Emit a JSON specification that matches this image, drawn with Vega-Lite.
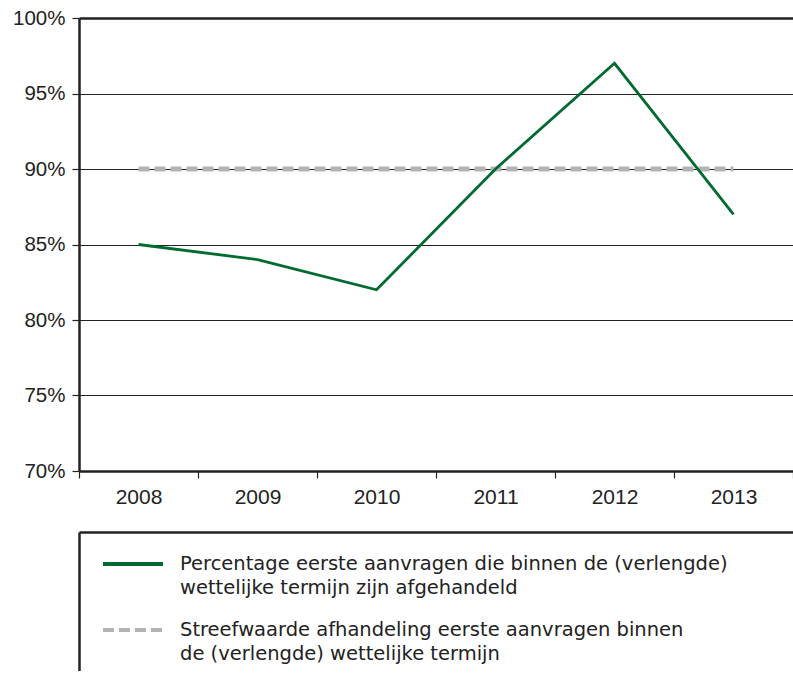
{
  "$schema": "https://vega.github.io/schema/vega-lite/v6.json",
  "padding": {"left": 12, "top": 8, "right": 0, "bottom": 0},
  "spacing": 25,
  "config": {
    "view": {"stroke": null},
    "font": "Liberation Sans",
    "axis": {"labelFont": "Liberation Sans", "labelColor": "#222222", "domainColor": "#222222", "tickColor": "#222222"}
  },
  "datasets": {
    "main": [
      {"year": "2008", "kind": "actual", "value": 0.85},
      {"year": "2009", "kind": "actual", "value": 0.84},
      {"year": "2010", "kind": "actual", "value": 0.82},
      {"year": "2011", "kind": "actual", "value": 0.90},
      {"year": "2012", "kind": "actual", "value": 0.97},
      {"year": "2013", "kind": "actual", "value": 0.87},
      {"year": "2008", "kind": "target", "value": 0.90},
      {"year": "2009", "kind": "target", "value": 0.90},
      {"year": "2010", "kind": "target", "value": 0.90},
      {"year": "2011", "kind": "target", "value": 0.90},
      {"year": "2012", "kind": "target", "value": 0.90},
      {"year": "2013", "kind": "target", "value": 0.90}
    ],
    "legend": [
      {"series": "Percentage eerste aanvragen die binnen de (verlengde)\nwettelijke termijn zijn afgehandeld"},
      {"series": "Streefwaarde afhandeling eerste aanvragen binnen\nde (verlengde) wettelijke termijn"}
    ]
  },
  "resolve": {
    "scale": {"color": "independent", "strokeDash": "independent"},
    "legend": {"color": "independent", "strokeDash": "independent"}
  },
  "vconcat": [
    {
      "width": 714,
      "height": 453,
      "data": {"name": "main"},
      "encoding": {
        "x": {
          "field": "year",
          "type": "ordinal",
          "bandPosition": 0.5,
          "scale": {"type": "band", "paddingInner": 0, "paddingOuter": 0},
          "axis": {
            "title": null,
            "tickBand": "extent",
            "labelAngle": 0,
            "labelFontSize": 21,
            "labelPadding": 8,
            "tickSize": 7,
            "tickWidth": 1.2,
            "domainWidth": 2.5,
            "grid": false
          }
        },
        "y": {
          "field": "value",
          "type": "quantitative",
          "scale": {"domain": [0.7, 1.0], "nice": false, "zero": false},
          "axis": {
            "title": null,
            "values": [0.7, 0.75, 0.8, 0.85, 0.9, 0.95, 1.0],
            "format": ".0%",
            "grid": true,
            "gridColor": "#222222",
            "gridOpacity": 1,
            "gridWidth": {"condition": {"test": "datum.value >= 0.999", "value": 2.5}, "value": 1},
            "labelFontSize": 20.5,
            "labelPadding": 7,
            "tickSize": 7,
            "tickWidth": 1.2,
            "domainWidth": 2.5
          }
        }
      },
      "layer": [
        {
          "transform": [{"filter": "datum.kind === 'target'"}],
          "mark": {"type": "line", "color": "#b3b3b5", "strokeWidth": 5, "strokeDash": [11, 5]}
        },
        {
          "transform": [{"filter": "datum.kind === 'actual'"}],
          "mark": {"type": "line", "color": "#006a30", "strokeWidth": 2.8}
        }
      ]
    },
    {
      "width": 714,
      "height": 139,
      "data": {"name": "legend"},
      "mark": {"type": "line"},
      "encoding": {
        "x": {"field": "series", "type": "nominal", "axis": {"orient": "top", "labels": false, "ticks": false, "title": null, "domainWidth": 2.5, "grid": false}},
        "y": {"field": "series", "type": "nominal", "axis": {"labels": false, "ticks": false, "title": null, "domainWidth": 2.5, "grid": false}},
        "color": {
          "field": "series",
          "type": "nominal",
          "scale": {"range": ["#006a30", "#b3b3b5"]},
          "legend": {
            "title": null,
            "orient": "none",
            "legendX": 22,
            "legendY": 0,
            "padding": 0,
            "symbolType": "stroke",
            "symbolSize": 3600,
            "symbolStrokeWidth": 4,
            "labelFont": "DejaVu Sans",
            "labelFontSize": 19.5,
            "labelColor": "#222222",
            "labelOffset": 15,
            "labelLimit": 700,
            "labelBaseline": "alphabetic",
            "rowPadding": -11,
            "encode": {"labels": {"update": {"lineBreak": {"value": "\n"}, "lineHeight": {"value": 24}, "dy": {"value": 6}}}}
          }
        },
        "strokeDash": {
          "field": "series",
          "type": "nominal",
          "scale": {"range": [[1, 0], [11, 5]]},
          "legend": {
            "title": null,
            "orient": "none",
            "legendX": 22,
            "legendY": 0,
            "padding": 0,
            "symbolType": "stroke",
            "symbolSize": 3600,
            "symbolStrokeWidth": 4,
            "labelFont": "DejaVu Sans",
            "labelFontSize": 19.5,
            "labelColor": "#222222",
            "labelOffset": 15,
            "labelLimit": 700,
            "labelBaseline": "alphabetic",
            "rowPadding": -11,
            "encode": {"labels": {"update": {"lineBreak": {"value": "\n"}, "lineHeight": {"value": 24}, "dy": {"value": 6}}}}
          }
        }
      }
    }
  ]
}
